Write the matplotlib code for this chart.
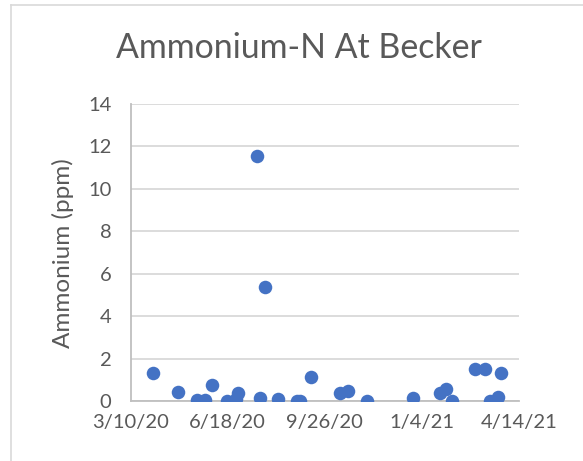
import matplotlib
matplotlib.use('Agg')
import matplotlib.pyplot as plt
import numpy as np
from datetime import datetime

# sample dates and ammonium readings (ppm)
dates = ['4/2/20', '4/28/20', '5/17/20', '5/26/20', '6/2/20', '6/17/20', '6/27/20',
         '6/29/20', '7/18/20', '7/21/20', '7/26/20', '8/9/20', '8/28/20', '8/31/20',
         '9/12/20', '10/12/20', '10/20/20', '11/9/20', '12/26/20', '1/23/21', '1/29/21',
         '2/4/21', '2/28/21', '3/10/21', '3/15/21', '3/23/21', '3/27/21']
ammonium = [1.35, 0.42, 0.06, 0.06, 0.78, 0.0, 0.1, 0.41, 11.55, 0.16, 5.4, 0.1, 0.03, 0.0,
            1.13, 0.41, 0.49, 0.0, 0.16, 0.41, 0.6, 0.03, 1.5, 1.5, 0.03, 0.22, 1.35]
xticks = ['3/10/20', '6/18/20', '9/26/20', '1/4/21', '4/14/21']

to_dt = lambda s: datetime.strptime(s, '%m/%d/%y')
x = [to_dt(d) for d in dates]
xt = [to_dt(d) for d in xticks]

txt = '#595959'
plt.rcParams['font.family'] = ['Lato', 'DejaVu Sans']

fig = plt.figure(figsize=(5.83, 4.61), dpi=100)
ax = fig.add_axes([0.2242, 0.1295, 0.6658, 0.6449])

ax.scatter(x, ammonium, s=95, color='#4472C4', zorder=3, linewidths=0)

ax.set_ylim(0, 14)
ax.set_yticks(np.arange(0, 15, 2))
ax.set_xlim(xt[0], xt[-1])
ax.set_xticks(xt)
ax.set_xticklabels(xticks)
ax.yaxis.grid(True, color='#D9D9D9', linewidth=1.3)
ax.set_axisbelow(True)
for s in ['top', 'right']:
    ax.spines[s].set_visible(False)
for s in ['left', 'bottom']:
    ax.spines[s].set_color('#BFBFBF')
    ax.spines[s].set_linewidth(1.3)
ax.tick_params(axis='x', length=0, labelsize=14.5, colors=txt, pad=9)
ax.tick_params(axis='y', length=0, labelsize=14.5, colors=txt, pad=14)
ax.set_ylabel('Ammonium (ppm)', fontsize=17.5, color=txt, labelpad=10)
fig.text(0.512, 0.895, 'Ammonium-N At Becker', ha='center', va='center', fontsize=24.4, color=txt)

# chart frame (left and top edges visible)
fig.add_artist(plt.Line2D([0.019, 0.019], [0.0, 0.989], transform=fig.transFigure,
                          color='#D9D9D9', linewidth=1.2))
fig.add_artist(plt.Line2D([0.019, 1.0], [0.989, 0.989], transform=fig.transFigure,
                          color='#D9D9D9', linewidth=1.2))

fig.savefig('out.png', dpi=100)
